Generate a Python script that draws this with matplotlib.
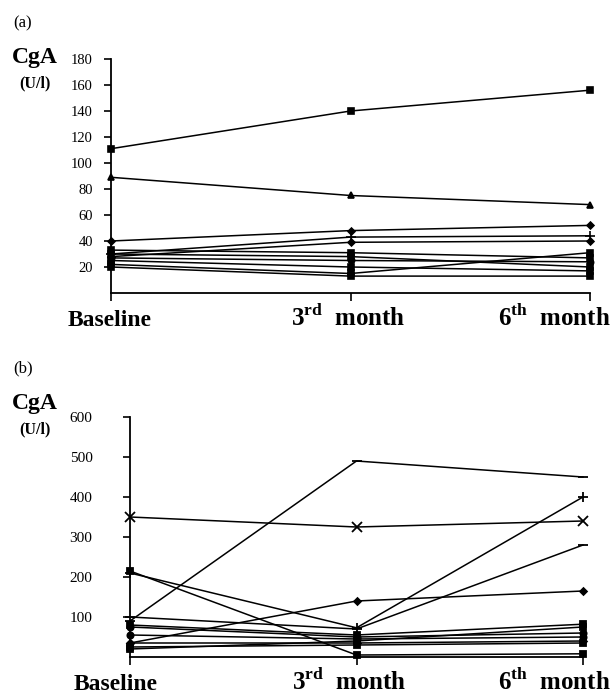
import matplotlib
matplotlib.use("Agg")
import matplotlib.pyplot as plt

plt.rcParams['font.family'] = ['Liberation Serif', 'DejaVu Serif']
plt.rcParams['mathtext.fontset'] = 'custom'
plt.rcParams['mathtext.rm'] = 'Liberation Serif'
plt.rcParams['mathtext.bf'] = 'Liberation Serif:bold'

time_labels = ['Baseline', r'3$^{\mathbf{rd}}$  month', r'6$^{\mathbf{th}}$  month']
time_pos = [0, 1, 2]

# Panel (a) series
a_values = [
    [111, 140, 156],
    [89, 75, 68],
    [40, 48, 52],
    [30, 43, 44],
    [28, 39, 40],
    [33, 31, 27],
    [30, 28, 20],
    [27, 25, 24],
    [25, 20, 17],
    [22, 15, 31],
    [20, 13, 13],
]
a_markers = ['s', '^', 'D', '+', 'D', 's', 's', 'o', 's', 's', 's']
a_yticks = [20, 40, 60, 80, 100, 120, 140, 160, 180]

# Panel (b) series
b_values = [
    [90, 490, 450],
    [350, 325, 340],
    [210, 73, 400],
    [100, 70, 280],
    [35, 140, 165],
    [215, 5, 8],
    [80, 55, 82],
    [75, 50, 60],
    [55, 45, 50],
    [35, 35, 40],
    [25, 30, 35],
    [20, 40, 75],
]
b_markers = ['_', 'x', '+', '_', 'D', 's', 's', 'o', 'o', 'D', 's', 's']
b_yticks = [100, 200, 300, 400, 500, 600]

W, H = 613, 696
fig = plt.figure(figsize=(W / 100, H / 100), dpi=100)


def px_axes(l, r, b, t):
    return fig.add_axes([l / W, 1 - b / H, (r - l) / W, (b - t) / H])


def ftext(x, y, s, **kw):
    fig.text(x / W, 1 - y / H, s, **kw)


def style(ax, ymax, yticks, pad, fs):
    ax.set_xlim(0, 2)
    ax.set_ylim(0, ymax)
    for s in ['top', 'right']:
        ax.spines[s].set_visible(False)
    for s in ['left', 'bottom']:
        ax.spines[s].set_linewidth(1.3)
    ax.set_yticks(yticks)
    ax.set_yticklabels([str(v) for v in yticks], fontsize=fs)
    ax.set_xticks(time_pos)
    ax.set_xticklabels([])
    ax.tick_params(axis='y', direction='out', length=5, width=1.2, pad=pad)
    ax.tick_params(axis='x', direction='out', length=6, width=1.2)


def marker_size(m):
    if m in ('x', '+', '_'):
        return 7
    if m == 'D':
        return 3.5
    return 4.5


ax1 = px_axes(111, 590, 293, 59)
for vals, m in zip(a_values, a_markers):
    ax1.plot(time_pos, vals, color='black', lw=1.1, marker=m,
             ms=marker_size(m), mew=1.2, clip_on=False)
style(ax1, 180, a_yticks, pad=8, fs=10.5)

ax2 = px_axes(130, 583, 657, 417)
for vals, m in zip(b_values, b_markers):
    ax2.plot(time_pos, vals, color='black', lw=1.1, marker=m,
             ms=marker_size(m), mew=1.3, clip_on=False)
style(ax2, 600, b_yticks, pad=22, fs=11)

# x category labels
top_x = [110, 348, 554]
bot_x = [116, 349, 554]
sizes = [17, 18, 18]
for x, lab, fs in zip(top_x, time_labels, sizes):
    ftext(x, 326, lab, fontsize=fs, fontweight='bold', ha='center', va='baseline')
for x, lab, fs in zip(bot_x, time_labels, sizes):
    ftext(x, 690, lab, fontsize=fs, fontweight='bold', ha='center', va='baseline')

ftext(13, 23, '(a)', fontsize=12, va='center', ha='left')
ftext(35, 57, 'CgA', fontsize=17, fontweight='bold', va='center', ha='center')
ftext(35, 83, '(U/l)', fontsize=11.5, fontweight='bold', va='center', ha='center')

ftext(13, 368, '(b)', fontsize=12, va='center', ha='left')
ftext(35, 404, 'CgA', fontsize=17, fontweight='bold', va='center', ha='center')
ftext(35, 429, '(U/l)', fontsize=11.5, fontweight='bold', va='center', ha='center')

fig.savefig('out.png', dpi=100)
